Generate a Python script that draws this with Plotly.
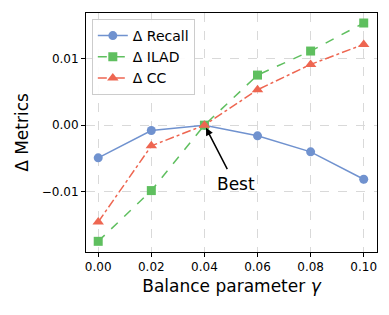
import plotly.graph_objects as go

gamma = [0.00, 0.02, 0.04, 0.06, 0.08, 0.10]
recall = [-0.0049, -0.0008, 0.0000, -0.0016, -0.0040, -0.0081]
ilad = [-0.0174, -0.0098, 0.0000, 0.0075, 0.0111, 0.0153]
cc = [-0.0145, -0.0031, 0.0000, 0.0053, 0.0091, 0.0121]
x_ticks = [0.00, 0.02, 0.04, 0.06, 0.08, 0.10]
x_ticklabels = ["0.00", "0.02", "0.04", "0.06", "0.08", "0.10"]
y_ticks = [-0.01, 0.00, 0.01]
y_ticklabels = ["\u22120.01", "0.00", "0.01"]

blue = "#7092cf"
green = "#5fbf5f"
red = "#ee6651"
font = "DejaVu Sans"

fig = go.Figure()
fig.add_trace(go.Scatter(x=gamma, y=recall, name="Δ Recall", mode="lines+markers",
                         line=dict(color=blue, width=1.5, dash="solid"),
                         marker=dict(symbol="circle", size=9, color=blue)))
fig.add_trace(go.Scatter(x=gamma, y=ilad, name="Δ ILAD", mode="lines+markers",
                         line=dict(color=green, width=1.5, dash="dash"),
                         marker=dict(symbol="square", size=9, color=green)))
fig.add_trace(go.Scatter(x=gamma, y=cc, name="Δ CC", mode="lines+markers",
                         line=dict(color=red, width=1.5, dash="dashdot"),
                         marker=dict(symbol="triangle-up", size=10, color=red)))

fig.add_annotation(x=0.0406, y=-0.0004, ax=0.0489, ay=-0.0068, axref="x", ayref="y",
                   xref="x", yref="y", text="", showarrow=True, arrowhead=2,
                   arrowsize=1, arrowwidth=1.5, arrowcolor="black")
fig.add_annotation(x=0.0520, y=-0.0088, xref="x", yref="y", text="Best", showarrow=False,
                   font=dict(family=font, size=17, color="black"))

fig.update_layout(
    width=381, height=307,
    margin=dict(l=78, r=12, t=5, b=63),
    plot_bgcolor="white", paper_bgcolor="white",
    font=dict(family=font, size=12, color="black"),
    showlegend=True,
    legend=dict(x=0.02, y=0.975, xanchor="left", yanchor="top",
                bgcolor="rgba(255,255,255,0.9)", bordercolor="#cccccc", borderwidth=1,
                font=dict(family=font, size=14), tracegroupgap=0, itemwidth=30),
)
fig.update_xaxes(range=[-0.0046, 0.105], tickvals=x_ticks, ticktext=x_ticklabels,
                 showline=True, linecolor="black", linewidth=1, mirror=True,
                 ticks="outside", ticklen=4, tickcolor="black",
                 showgrid=True, gridcolor="#d9d9d9", griddash="dash", gridwidth=1,
                 zeroline=False,
                 title=dict(text="Balance parameter <i>γ</i>", font=dict(size=17), standoff=6))
fig.update_yaxes(range=[-0.0190, 0.0168], tickvals=y_ticks, ticktext=y_ticklabels,
                 showline=True, linecolor="black", linewidth=1, mirror=True,
                 ticks="outside", ticklen=4, tickcolor="black",
                 showgrid=True, gridcolor="#d9d9d9", griddash="dash", gridwidth=1,
                 zeroline=False,
                 title=dict(text="Δ Metrics", font=dict(size=17), standoff=8))

fig.write_html("out.html")
